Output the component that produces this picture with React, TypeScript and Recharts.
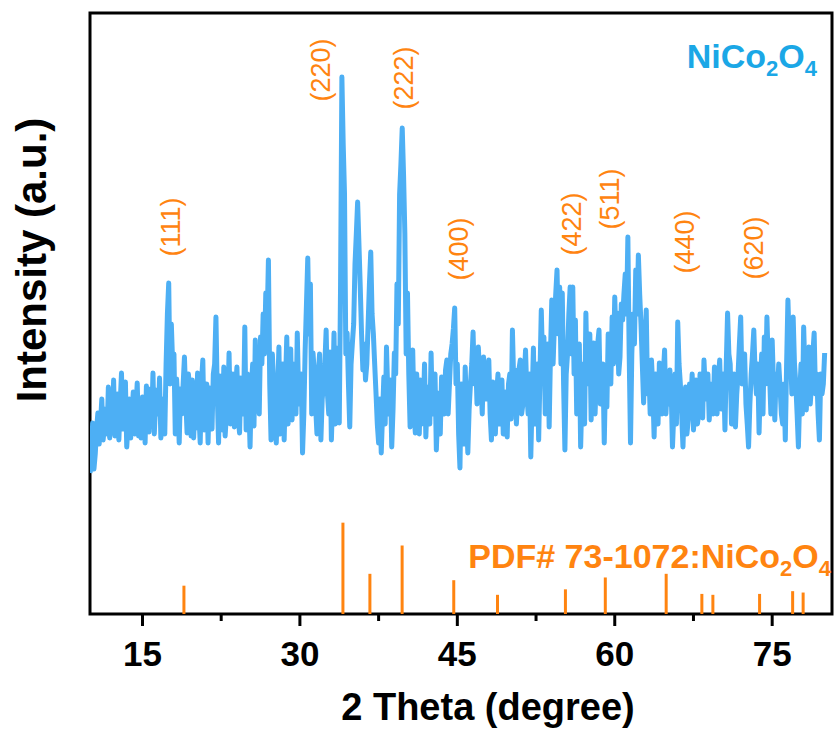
import React from "react";
import {
    ComposedChart,
    Line,
    XAxis,
    YAxis,
    ReferenceArea,
    ReferenceDot,
} from "recharts";

// measured pattern, 0.125 deg step from 10 deg
const thetaStart = 10;
const thetaStep = 0.125;
const intensity = [
    141, 150, 191, 145, 160, 185, 201, 170, 190, 215, 174, 188, 205, 180, 227, 176,
    200, 182, 234, 178, 195, 220, 174, 210, 241, 185, 205, 232, 167, 190, 215, 176,
    201, 222, 180, 205, 231, 178, 195, 176, 217, 206, 171, 228, 200, 182, 225, 190,
    241, 180, 211, 224, 200, 236, 176, 190, 215, 180, 250, 300, 331, 230, 290, 250,
    260, 180, 235, 210, 171, 225, 200, 230, 257, 214, 181, 240, 225, 178, 234, 176,
    210, 186, 241, 200, 171, 232, 254, 184, 195, 230, 171, 226, 207, 185, 240, 250,
    297, 220, 171, 238, 215, 184, 247, 178, 200, 205, 261, 190, 220, 240, 187, 226,
    247, 196, 181, 236, 230, 200, 287, 184, 240, 214, 167, 225, 250, 188, 274, 205,
    230, 200, 277, 250, 300, 260, 321, 290, 354, 230, 174, 260, 230, 185, 171, 220,
    267, 180, 210, 250, 174, 230, 277, 190, 240, 265, 194, 230, 250, 200, 281, 220,
    210, 240, 161, 200, 264, 310, 356, 280, 330, 200, 261, 240, 207, 180, 240, 260,
    174, 215, 230, 250, 284, 220, 200, 262, 174, 218, 281, 190, 220, 266, 191, 330,
    537, 470, 420, 260, 281, 230, 187, 250, 271, 290, 350, 380, 412, 370, 327, 280,
    244, 270, 234, 250, 290, 330, 362, 300, 280, 250, 221, 190, 171, 215, 161, 200,
    237, 190, 267, 220, 200, 234, 167, 205, 261, 240, 330, 290, 420, 450, 486, 440,
    380, 260, 321, 240, 187, 230, 264, 200, 181, 240, 215, 180, 234, 190, 200, 250,
    177, 215, 227, 190, 261, 200, 210, 240, 164, 200, 221, 180, 237, 215, 200, 244,
    254, 200, 230, 260, 270, 285, 306, 230, 250, 180, 146, 230, 200, 170, 247, 200,
    161, 205, 230, 250, 282, 230, 255, 210, 267, 240, 230, 200, 257, 226, 215, 240,
    254, 200, 174, 232, 210, 180, 221, 240, 190, 225, 234, 180, 200, 222, 177, 230,
    240, 195, 284, 230, 244, 190, 215, 245, 254, 200, 210, 236, 264, 220, 200, 240,
    157, 215, 266, 190, 210, 250, 174, 240, 304, 250, 277, 200, 230, 270, 187, 260,
    314, 250, 290, 320, 344, 280, 327, 250, 321, 230, 164, 240, 260, 300, 327, 260,
    327, 240, 294, 200, 230, 270, 167, 220, 250, 190, 301, 230, 240, 280, 194, 250,
    271, 200, 240, 270, 284, 210, 230, 250, 171, 240, 207, 280, 260, 230, 297, 250,
    317, 270, 301, 240, 257, 310, 294, 320, 340, 300, 377, 260, 171, 260, 300, 270,
    344, 300, 359, 320, 290, 250, 211, 270, 304, 220, 244, 200, 254, 226, 177, 240,
    220, 190, 251, 228, 200, 240, 264, 200, 230, 210, 244, 225, 167, 200, 240, 190,
    292, 250, 230, 200, 167, 210, 227, 180, 194, 230, 210, 240, 184, 205, 234, 190,
    200, 240, 225, 196, 254, 225, 215, 240, 194, 220, 230, 200, 247, 222, 200, 236,
    254, 205, 220, 240, 184, 250, 301, 260, 250, 190, 210, 240, 187, 220, 240, 270,
    297, 230, 244, 260, 210, 190, 167, 210, 240, 260, 284, 240, 220, 250, 181, 230,
    260, 200, 277, 230, 297, 250, 240, 200, 274, 230, 194, 240, 220, 250, 227, 200,
    190, 230, 174, 250, 314, 270, 260, 220, 297, 250, 230, 200, 167, 220, 250, 200,
    287, 240, 204, 240, 267, 210, 230, 260, 281, 220, 240, 200, 174, 240, 220, 230,
    261,
];

// PDF# 73-1072 reference lines
const pdfTheta = [18.95, 34.1, 36.67, 39.74, 44.66, 48.83, 55.3, 59.1, 64.9, 68.3, 69.35, 73.8, 76.95, 77.95];
const pdfIntensity = [31, 100, 44, 75, 37, 21, 27, 40, 44, 22, 21, 22, 25, 23.5];

const hklNames = ["(111)", "(220)", "(222)", "(400)", "(422)", "(511)", "(440)", "(620)"];
const hklTheta = [17.75, 32.04, 39.9, 45.2, 55.9, 59.5, 66.7, 73.3];

const xTicks = [15, 22.5, 30, 37.5, 45, 52.5, 60, 67.5, 75];
const majorTicks = [15, 30, 45, 60, 75];

const FONT = "'Liberation Sans', Arial, Helvetica, sans-serif";
const BLUE = "#4DAFF4";
const TITLE_BLUE = "#1BA7E6";
const ORANGE = "#FF8410";

const curveData = intensity.map((v, i) => ({ theta: thetaStart + i * thetaStep, counts: v }));

function AxisTick(props: any) {
    const { x, y, payload } = props;
    const major = majorTicks.includes(payload.value);
    return (
        <g>
            <line x1={x} x2={x} y1={y} y2={y + (major ? 12 : 7)} stroke="#000" strokeWidth={3} />
            {major && (
                <text x={x} y={y + 52} textAnchor="middle" fontSize={35} fontWeight="bold" fill="#000" fontFamily={FONT}>
                    {payload.value}
                </text>
            )}
        </g>
    );
}

function XLabel(props: any) {
    const { viewBox } = props;
    return (
        <text x={viewBox.x + viewBox.width / 2 + 27} y={720} textAnchor="middle" fontSize={38} fontWeight="bold" fill="#000" fontFamily={FONT}>
            2 Theta (degree)
        </text>
    );
}

function YLabel() {
    return (
        <text transform="translate(46,260) rotate(-90)" textAnchor="middle" fontSize={42} fontWeight="bold" fill="#000" fontFamily={FONT}>
            Intensity (a.u.)
        </text>
    );
}

function HklLabel(props: any) {
    const { viewBox, text } = props;
    const cx = viewBox.x + viewBox.width / 2;
    const cy = viewBox.y + viewBox.height / 2;
    return (
        <text
            transform={`translate(${cx},${cy}) rotate(-90)`}
            textAnchor="middle"
            dominantBaseline="central"
            fontSize={27}
            fill={ORANGE}
            fontFamily={FONT}
        >
            {text}
        </text>
    );
}

export default function App() {
    // label heights, in the pattern's intensity units
    const hklLevel = [387, 544, 536, 365, 390, 415, 372, 366];
    return (
        <div style={{ position: "absolute", left: 0, top: 0, width: 838, height: 731, background: "#fff" }}>
            <ComposedChart width={838} height={731} margin={{ top: 13, right: 6, bottom: 17, left: 0 }}>
                <XAxis
                    dataKey="theta"
                    type="number"
                    domain={[10, 80.7]}
                    allowDataOverflow
                    ticks={xTicks}
                    interval={0}
                    tick={<AxisTick />}
                    tickLine={false}
                    axisLine={false}
                    tickSize={0}
                    tickMargin={0}
                    height={100}
                    label={<XLabel />}
                />
                <YAxis
                    yAxisId="xrd"
                    type="number"
                    domain={[0, 601]}
                    allowDataOverflow
                    width={90}
                    tick={false}
                    tickLine={false}
                    axisLine={false}
                    label={<YLabel />}
                />
                <YAxis yAxisId="pdf" type="number" domain={[0, 658]} allowDataOverflow hide />
                <Line
                    yAxisId="xrd"
                    data={curveData}
                    dataKey="counts"
                    type="linear"
                    stroke={BLUE}
                    strokeWidth={5}
                    strokeLinejoin="round"
                    dot={false}
                    activeDot={false}
                    isAnimationActive={false}
                />
                {pdfTheta.map((t, i) => (
                    <Line
                        key={"pdf" + i}
                        yAxisId="pdf"
                        data={[
                            { theta: t, ref: 0 },
                            { theta: t, ref: pdfIntensity[i] },
                        ]}
                        dataKey="ref"
                        type="linear"
                        stroke={ORANGE}
                        strokeWidth={3}
                        dot={false}
                        activeDot={false}
                        isAnimationActive={false}
                    />
                ))}
                <ReferenceArea
                    yAxisId="xrd"
                    x1={10}
                    x2={80.7}
                    y1={0}
                    y2={601}
                    fill="none"
                    fillOpacity={0}
                    stroke="#000"
                    strokeWidth={3}
                    ifOverflow="visible"
                />
                {hklNames.map((name, i) => (
                    <ReferenceDot
                        key={name}
                        yAxisId="xrd"
                        x={hklTheta[i]}
                        y={hklLevel[i]}
                        r={0}
                        fill="none"
                        stroke="none"
                        ifOverflow="visible"
                        label={<HklLabel text={name} />}
                    />
                ))}
            </ComposedChart>
            <svg width={838} height={731} style={{ position: "absolute", left: 0, top: 0, pointerEvents: "none" }}>
                <text x={817} y={68} textAnchor="end" fontSize={34} fontWeight="bold" fill={TITLE_BLUE} fontFamily={FONT}>
                    <tspan>NiCo</tspan>
                    <tspan fontSize={22} dy={8}>2</tspan>
                    <tspan dy={-8}>O</tspan>
                    <tspan fontSize={22} dy={8}>4</tspan>
                </text>
                <text x={831} y={568} textAnchor="end" fontSize={34} fontWeight="bold" fill={ORANGE} fontFamily={FONT}>
                    <tspan>PDF# 73-1072:NiCo</tspan>
                    <tspan fontSize={22} dy={8}>2</tspan>
                    <tspan dy={-8}>O</tspan>
                    <tspan fontSize={22} dy={8}>4</tspan>
                </text>
            </svg>
        </div>
    );
}
